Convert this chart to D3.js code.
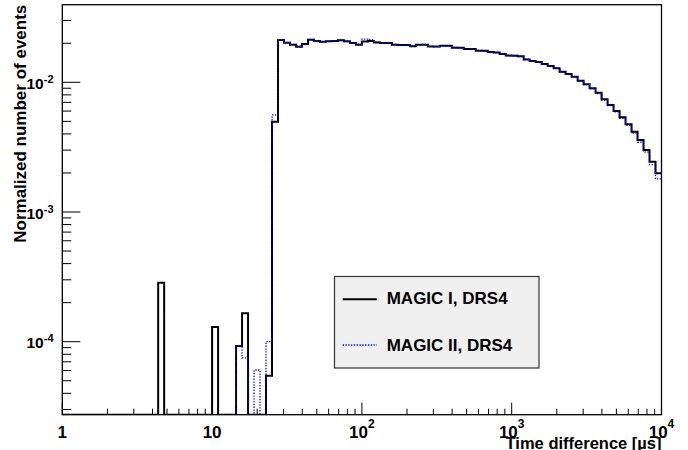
<!DOCTYPE html>
<html>
<head>
<meta charset="utf-8">
<script src="https://cdn.jsdelivr.net/npm/d3@7"></script>
<style>
  html, body { margin: 0; padding: 0; background: #fff; }
  svg { display: block; }
  text { font-family: "Liberation Sans", Arial, sans-serif; font-weight: bold; fill: #000; }
</style>
</head>
<body>
<svg id="chart" width="688" height="450"></svg>
<script>
// ---- Data (histogram: 100 log-spaced bins from 1 to 10^4 us) ----
const nBins = 100;
const xMin = 1, xMax = 1e4;
const yMin = 2.736e-5, yMax = 0.03966;

const magic1Values = [
  0,0,0,0,0,0,0,0,0,0,
  0,0,0,0,0,0,2.85e-4,0,0,0,
  0,0,0,0,0,1.30e-4,0,0,0,9.27e-5,
  1.66e-4,0,0,0,5.47e-5,4.97e-3,0.0212,0.0202,0.0195,0.0188,
  0.0197,0.0213,0.0208,0.0205,0.0207,0.0208,0.0211,0.0207,0.0201,0.0195,
  0.0206,0.0208,0.0203,0.0201,0.0201,0.0195,0.0194,0.0194,0.0190,0.0195,
  0.0195,0.0189,0.0189,0.0191,0.0191,0.0185,0.0185,0.0181,0.0181,0.0175,
  0.0175,0.0171,0.0170,0.0165,0.0161,0.0160,0.0159,0.0150,0.0146,0.01437,
  0.01384,0.01336,0.01282,0.01208,0.01159,0.01105,0.01028,0.00965,0.00899,0.00832,
  0.00739,0.00668,0.00601,0.00537,0.00474,0.00416,0.00359,0.00301,0.00244,0.00199
];
const magic2Values = [
  0,0,0,0,0,0,0,0,0,0,
  0,0,0,0,0,0,0,0,0,0,
  0,0,0,0,0,0,0,0,0,9.27e-5,
  7.5e-5,0,6.05e-5,0,1.0e-4,5.6e-3,0.0213,0.0203,0.0196,0.0190,
  0.0198,0.0214,0.0209,0.0206,0.0208,0.0209,0.0212,0.0206,0.0200,0.0197,
  0.0215,0.0213,0.0205,0.0200,0.0200,0.0196,0.0193,0.0195,0.0191,0.0194,
  0.0196,0.0190,0.0188,0.0192,0.0190,0.0186,0.0184,0.0182,0.0180,0.0176,
  0.0174,0.0172,0.0169,0.0166,0.0160,0.0161,0.0158,0.0151,0.0145,0.01440,
  0.01380,0.01330,0.01285,0.01200,0.01150,0.01100,0.01020,0.00958,0.00890,0.00820,
  0.00730,0.00660,0.00592,0.00528,0.00465,0.00405,0.00345,0.00290,0.00232,0.00180
];
const legendLabels = ["MAGIC I, DRS4", "MAGIC II, DRS4"];
const xMajorTicks = [1, 10, 100, 1000, 10000];
const xTickLabels = [["1",""], ["10",""], ["10","2"], ["10","3"], ["10","4"]];
const yMajorTicks = [1e-4, 1e-3, 1e-2];
const yTickLabels = [["10","-4"], ["10","-3"], ["10","-2"]];
const xTitle = "Time difference [\u00b5s]";
const yTitle = "Normalized number of events";

// ---- Layout ----
const L = 62.3, R = 661.5, T = 4.7, B = 414.7;
const svg = d3.select("#chart");

const x = d3.scaleLog().domain([xMin, xMax]).range([L, R]);
const y = d3.scaleLog().domain([yMin, yMax]).range([B, T]);

// bin edges (log-uniform binning of the histogram)
const logEdges = d3.range(nBins + 1).map(i => Math.log10(xMin) + i * (Math.log10(xMax) - Math.log10(xMin)) / nBins);
const edges = logEdges.map(l => Math.pow(10, l));

svg.append("defs").append("clipPath").attr("id", "clip")
  .append("rect").attr("x", L).attr("y", T).attr("width", R - L).attr("height", B - T);

function stepPath(vals) {
  const pts = vals.map((v, i) => [edges[i], v]);
  pts.push([edges[nBins], vals[nBins - 1]]);
  return d3.line()
    .x(d => x(d[0]))
    .y(d => y(Math.max(d[1], yMin)))
    .curve(d3.curveStepAfter)(pts);
}

const plot = svg.append("g").attr("clip-path", "url(#clip)");
plot.append("path").attr("d", stepPath(magic1Values))
  .attr("fill", "none").attr("stroke", "#000").attr("stroke-width", 2);
plot.append("path").attr("d", stepPath(magic2Values))
  .attr("fill", "none").attr("stroke", "#0000ff").attr("stroke-width", 1.3)
  .attr("stroke-dasharray", "1.3,1.5");

// ---- Frame ----
svg.append("rect").attr("x", L).attr("y", T).attr("width", R - L).attr("height", B - T)
  .attr("fill", "none").attr("stroke", "#000").attr("stroke-width", 1.3);

// ---- X ticks ----
const xTicksAll = [];
for (let d = 0; d < 4; d++) for (let k = 1; k <= 9; k++) xTicksAll.push(k * Math.pow(10, d));
xTicksAll.push(1e4);
const gx = svg.append("g");
xTicksAll.forEach(v => {
  const major = Math.abs(Math.log10(v) - Math.round(Math.log10(v))) < 1e-9;
  const len = major ? 12 : 6;
  gx.append("line").attr("x1", x(v)).attr("x2", x(v)).attr("y1", B).attr("y2", B - len)
    .attr("stroke", "#000").attr("stroke-width", 1);
});
xMajorTicks.forEach((v, i) => {
  const t = gx.append("text").attr("x", x(v)).attr("y", 438)
    .attr("text-anchor", "middle").attr("font-size", 17);
  t.append("tspan").text(xTickLabels[i][0]);
  if (xTickLabels[i][1]) t.append("tspan").attr("font-size", 12).attr("dy", -10).text(xTickLabels[i][1]);
});

// ---- Y ticks ----
const yTicksAll = [];
for (let d = -5; d <= -2; d++) for (let k = 1; k <= 9; k++) {
  const v = k * Math.pow(10, d);
  if (v >= yMin && v <= yMax) yTicksAll.push(v);
}
const gy = svg.append("g");
yTicksAll.forEach(v => {
  const major = Math.abs(Math.log10(v) - Math.round(Math.log10(v))) < 1e-9;
  const len = major ? 18 : 9;
  gy.append("line").attr("x1", L).attr("x2", L + len).attr("y1", y(v)).attr("y2", y(v))
    .attr("stroke", "#000").attr("stroke-width", 1);
});
yMajorTicks.forEach((v, i) => {
  const t = gy.append("text").attr("x", 53.5).attr("y", y(v) + 6.5)
    .attr("text-anchor", "end").attr("font-size", 15.5);
  t.append("tspan").text(yTickLabels[i][0]);
  t.append("tspan").attr("font-size", 11).attr("dy", -6).text(yTickLabels[i][1]);
});

// ---- Axis titles ----
svg.append("text").attr("x", R).attr("y", 448.5).attr("text-anchor", "end")
  .attr("font-size", 16.5).text(xTitle);
svg.append("text").attr("transform", `translate(25.5,${T}) rotate(-90)`)
  .attr("text-anchor", "end").attr("font-size", 17).text(yTitle);

// ---- Legend ----
const lg = svg.append("g");
lg.append("rect").attr("x", 334.5).attr("y", 276.5).attr("width", 204.5).attr("height", 91.5)
  .attr("fill", "#f0f0f0").attr("stroke", "#333").attr("stroke-width", 1.2);
lg.append("line").attr("x1", 342.7).attr("x2", 376.7).attr("y1", 299.3).attr("y2", 299.3)
  .attr("stroke", "#000").attr("stroke-width", 2);
lg.append("line").attr("x1", 342.7).attr("x2", 376.7).attr("y1", 345).attr("y2", 345)
  .attr("stroke", "#0000ff").attr("stroke-width", 1.3).attr("stroke-dasharray", "1.3,1.5");
lg.append("text").attr("x", 386.7).attr("y", 304.3).attr("font-size", 17).text(legendLabels[0]);
lg.append("text").attr("x", 386.7).attr("y", 351).attr("font-size", 17).text(legendLabels[1]);
</script>
</body>
</html>
